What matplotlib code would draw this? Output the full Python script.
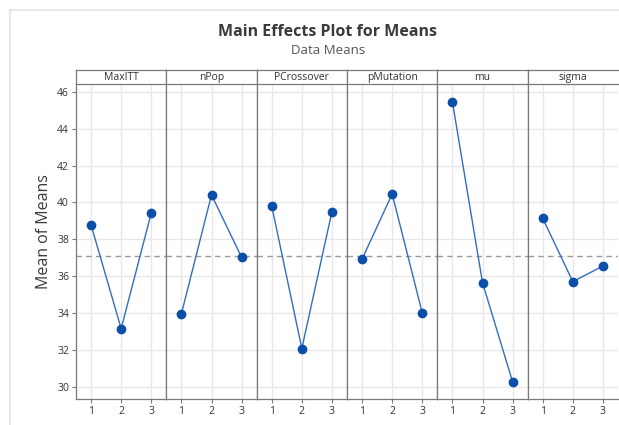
# Main effects plot for means, six factors in side by side panels
import numpy as np
import matplotlib
matplotlib.use("Agg")
import matplotlib.pyplot as plt
from matplotlib.lines import Line2D

factors = ["MaxITT", "nPop", "PCrossover", "pMutation", "mu", "sigma"]
levels = [1, 2, 3]
means_maxitt = [38.78, 33.15, 39.43]
means_npop = [33.95, 40.41, 37.02]
means_pcross = [39.81, 32.07, 39.50]
means_pmut = [36.92, 40.46, 34.00]
means_mu = [45.47, 35.65, 30.26]
means_sigma = [39.14, 35.70, 36.55]
grand_mean = 37.12
yticks = [30, 32, 34, 36, 38, 40, 42, 44, 46]

all_means = [means_maxitt, means_npop, means_pcross, means_pmut, means_mu, means_sigma]

plt.rcParams['font.family'] = ['Open Sans', 'DejaVu Sans']

W, H = 619, 425
fig = plt.figure(figsize=(W / 100, H / 100), dpi=100)

# light frame of the original window
fig.add_artist(Line2D([10 / W, 10 / W], [0, 1 - 10 / H], transform=fig.transFigure,
                      color="#e4e4e4", lw=1.2))
fig.add_artist(Line2D([10 / W, 1], [1 - 10 / H, 1 - 10 / H], transform=fig.transFigure,
                      color="#e4e4e4", lw=1.2))

fig.text(328 / W, 1 - 32 / H, "Main Effects Plot for Means", ha="center", va="center",
         fontsize=11.5, fontweight="bold", color="#3a3a3a")
fig.text(328 / W, 1 - 51 / H, "Data Means", ha="center", va="center",
         fontsize=9.5, color="#555555")

left, right = 76, 618
top, bottom = 84, 399
strip_top = 69.5
pw = (right - left) / len(factors)

axes = []
for i, (name, vals) in enumerate(zip(factors, all_means)):
    x0 = (left + i * pw) / W
    ax = fig.add_axes([x0, 1 - bottom / H, pw / W, (bottom - top) / H])
    axes.append(ax)
    ax.set_xlim(0.5, 3.5)
    ax.set_ylim(29.33, 46.43)
    ax.set_yticks(yticks)
    ax.set_xticks(levels)
    ax.grid(True, color="#e8e8e8", lw=1.0)
    ax.set_axisbelow(True)
    ax.axhline(grand_mean, color="#9a9a9a", lw=1.0, ls=(0, (4, 3)), zorder=2)
    ax.plot(levels, vals, color="#2f6fbf", lw=1.0, zorder=3)
    ax.plot(levels, vals, "o", color="#0b4fa8", ms=6, zorder=4)
    for s in ["left", "right", "bottom"]:
        ax.spines[s].set_color("#7a7a7a")
        ax.spines[s].set_linewidth(0.9)
    ax.spines["top"].set_visible(False)
    if i == len(factors) - 1:
        ax.spines["right"].set_visible(False)
    ax.tick_params(axis="x", length=3, color="#7a7a7a", labelsize=7.5,
                   labelcolor="#333333", pad=2)
    if i == 0:
        ax.tick_params(axis="y", length=3, color="#7a7a7a", labelsize=7.5,
                       labelcolor="#333333", pad=2)
    else:
        ax.tick_params(axis="y", length=0, labelleft=False)

    # strip header
    sx = fig.add_axes([x0, 1 - top / H, pw / W, (top - strip_top) / H])
    sx.set_xticks([])
    sx.set_yticks([])
    for s in sx.spines.values():
        s.set_color("#7a7a7a")
        s.set_linewidth(0.9)
    if i == len(factors) - 1:
        sx.spines["right"].set_visible(False)
    sx.text(0.5, 0.42, name, ha="center", va="center", fontsize=7.5,
            color="#333333", transform=sx.transAxes)

fig.text(44 / W, 1 - 232 / H, "Mean of Means", rotation=90, ha="center", va="center",
         fontsize=11.5, color="#3a3a3a")

fig.savefig("out.png", dpi=100)
